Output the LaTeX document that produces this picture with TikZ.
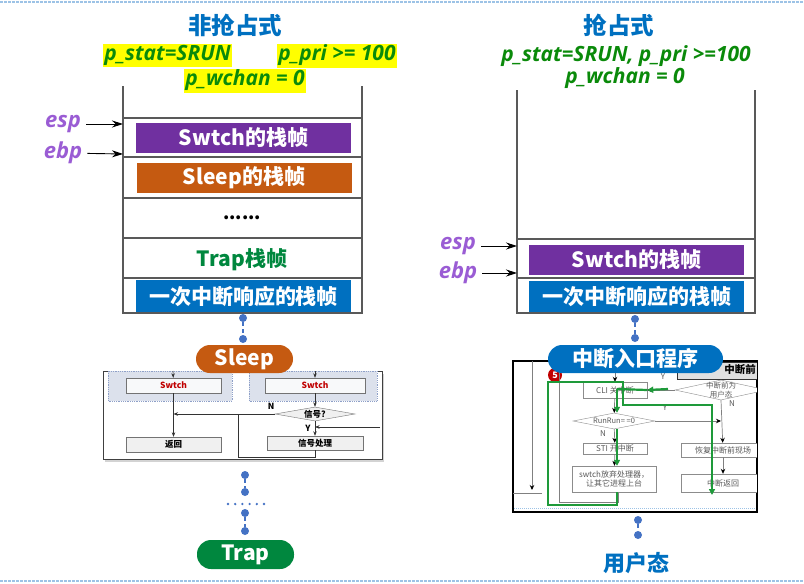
\documentclass[tikz,border=0pt]{standalone}
\usepackage{fontspec}
\setmainfont{Noto Sans CJK SC}
\newfontfamily\latinit{Open Sans}
\usetikzlibrary{positioning, shapes.geometric, arrows.meta, calc, shadows}
\definecolor{titleblue}{HTML}{0070C0}
\definecolor{condgreen}{HTML}{0A8A0A}
\definecolor{hilite}{HTML}{FFFF00}
\definecolor{regpurple}{HTML}{9A5CD4}
\definecolor{swpurple}{HTML}{7030A0}
\definecolor{slporange}{HTML}{C55A11}
\definecolor{intblue}{HTML}{0070C0}
\definecolor{trapgreen}{HTML}{00873E}
\definecolor{dotblue}{HTML}{4472C4}
\definecolor{stackgray}{HTML}{595959}
\definecolor{flowred}{HTML}{C00000}
\definecolor{regionfill}{HTML}{DCE1EC}
\definecolor{regionedge}{HTML}{8EA0C8}
\definecolor{shotgreen}{HTML}{1E9A3A}
\definecolor{edgeblue}{HTML}{9DC3E6}

\begin{document}
\begin{tikzpicture}[x=1pt, y=-1pt,
    title/.style={font=\fontsize{23.5}{26}\selectfont\bfseries, text=titleblue, inner sep=0pt},
    cond/.style={font=\latinit\bfseries\itshape\fontsize{21}{23}\selectfont, text=condgreen, inner sep=1pt},
    hilitebox/.style={fill=hilite, inner xsep=1.5pt, inner ysep=1.5pt},
    stackline/.style={draw=stackgray, line width=1.2pt},
    framebox/.style={minimum width=215pt, minimum height=30pt, inner sep=0pt, text=white,
                     font=\fontsize{21}{23}\selectfont\bfseries},
    ptrlabel/.style={font=\latinit\bfseries\itshape\fontsize{22}{24}\selectfont, text=regpurple, inner sep=1pt},
    ptr/.style={-{Stealth[length=11pt,width=7pt]}, line width=0.9pt, shorten <=4pt},
    pill/.style={rounded corners=14pt, minimum height=28pt, inner sep=0pt, text=white,
                 font=\fontsize{21}{23}\selectfont\bfseries},
    dot/.style={circle, fill=dotblue, minimum size=8pt, inner sep=0pt},
    link/.style={dotblue, line width=1.2pt, dash pattern=on 4pt off 3pt},
    % left small flow chart
    lfbox/.style={draw=black!55, minimum height=15pt, inner sep=0pt, font=\fontsize{8.5}{9}\selectfont\bfseries},
    swbox/.style={lfbox, fill=regionfill!85!black!10!white, text=flowred},
    plainbox/.style={lfbox, fill=black!6},
    flowline/.style={draw=black!80, line width=0.6pt},
    flowarrow/.style={flowline, -{Stealth[length=4.5pt,width=3.5pt]}},
    flowlabel/.style={font=\fontsize{8.5}{9}\selectfont\bfseries, inner sep=0pt},
    % right small flow chart
    rfbox/.style={draw=black!45, fill=white, inner sep=0pt, text=black!65, font=\fontsize{8}{9.5}\selectfont},
    rtext/.style={text=black!65, font=\fontsize{7.5}{8.5}\selectfont, inner sep=0pt},
    rline/.style={draw=black!50, line width=0.7pt},
    garrow/.style={rline, -{Stealth[length=5pt,width=4.5pt,black]}},
    gpath/.style={draw=shotgreen, line width=2.2pt},
    gtip/.style={-{Triangle[length=6pt,width=6pt]}},
  ]
  \useasboundingbox (0,0) rectangle (804,584);

  % page edges
  \draw[edgeblue, line width=2pt, dash pattern=on 3pt off 1pt] (0,2) -- (804,2);
  \draw[edgeblue, line width=2pt, dash pattern=on 3pt off 1pt] (0,581) -- (804,581);

  % ---------------- left: non preemptive ----------------
  \node[title] (ltitle) at (235,25) {非抢占式};
  \node[cond, hilitebox] (lcond1) at (167.5,55.5) {p\_stat=SRUN};
  \node[cond, hilitebox] (lcond2) at (337,55.5) {p\_pri >= 100};
  \node[cond, hilitebox] (lcond3) at (245,80.5) {p\_wchan = 0};

  \draw[stackline] (123,86) -- (123,313) -- (362,313) -- (362,86);
  \foreach \y in {118,157,198,238,278}
    \draw[stackline] (123,\y) -- (362,\y);

  \node[framebox, fill=swpurple] (lswtch) at (243.5,138) {Swtch的栈帧};
  \node[framebox, fill=slporange] (lsleep) at (244,178) {Sleep的栈帧};
  \node[font=\fontsize{18}{20}\selectfont\bfseries, inner sep=0pt] (lmore) at (242,218) {......};
  \node[font=\fontsize{21}{23}\selectfont\bfseries, text=trapgreen] (ltrap) at (242,260) {Trap栈帧};
  \node[framebox, fill=intblue, minimum height=32pt] (lintr) at (243.5,296) {一次中断响应的栈帧};

  \node[ptrlabel] (lesp) at (63,124) {esp};
  \node[ptrlabel] (lebp) at (63,153) {ebp};
  \coordinate (lespT) at (123,124);
  \coordinate (lebpT) at (123,154);
  \draw[ptr] (lesp) -- (lespT);
  \draw[ptr] (lebp) -- (lebpT);

  \node[dot] (ld1) at (243,318) {};
  \node[dot] (ld2) at (243,339) {};
  \draw[link] (ld1) -- (ld2);

  % sleep flow chart
  \node[draw=black!75, line width=0.8pt, fill=white,
        drop shadow={shadow xshift=2pt, shadow yshift=-3pt, opacity=0.35},
        minimum width=279pt, minimum height=88pt, inner sep=0pt] (lshot) at (242.5,415) {};
  \filldraw[fill=regionfill, draw=regionedge, densely dotted, line width=0.8pt] (108,371) rectangle (232,401);
  \filldraw[fill=regionfill, draw=regionedge, densely dotted, line width=0.8pt] (249,371) rectangle (377,401);
  \node[swbox, minimum width=95pt] (lsw1) at (173.5,385.5) {Swtch};
  \node[swbox, minimum width=100pt] (lsw2) at (315,385.5) {Swtch};
  \node[plainbox, minimum width=95pt] (lret) at (173.5,444.5) {返回};
  \node[diamond, draw=black!55, fill=black!6, aspect=5.7, minimum width=80pt, minimum height=14pt,
        inner sep=0pt, font=\fontsize{8.5}{9}\selectfont\bfseries] (ldia) at (315,414) {信号?};
  \node[plainbox, minimum width=96pt, minimum height=14pt] (lproc) at (315,443) {信号处理};
  \coordinate (lin1) at (173,371);
  \coordinate (lin2) at (315,371);
  \coordinate (lloop) at (238,457);
  \coordinate (lback) at (380,427);
  \draw[flowarrow] (lin1) -- (lsw1);
  \draw[flowarrow] (lin2) -- (lsw2);
  \draw[flowarrow] (lsw1) -- (lret);
  \draw[flowarrow] (lsw2) -- (ldia);
  \draw[flowarrow] (ldia.west) -- (ldia.west -| lsw1);
  \draw[flowarrow] (ldia) -- (lproc);
  \draw[flowline] (lproc.south) |- (lloop) -- (lloop |- ldia);
  \draw[flowarrow] (lback) -- (lback -| ldia);
  \node[flowlabel] (lN) at (271,406) {N};
  \node[flowlabel] (lY) at (308,428) {Y};

  \node[pill, fill=slporange, minimum width=97pt] (lsleeppill) at (244.5,359) {Sleep};

  \node[dot] (ld3) at (245,475) {};
  \node[dot] (ld4) at (245,492) {};
  \node[dot] (ld5) at (245,513) {};
  \node[dot] (ld6) at (245,531) {};
  \draw[link] (ld3) -- (ld4);
  \draw[link] (ld5) -- (ld6);
  \draw[dotblue, line width=2.6pt, line cap=round, dash pattern=on 0pt off 7.2pt] (228,504) -- (264,504);
  \node[pill, fill=trapgreen, minimum width=97pt, minimum height=29pt] (ltrappill) at (245.5,554.5) {Trap};

  % ---------------- right: preemptive ----------------
  \node[title] (rtitle) at (619,25) {抢占式};
  \node[cond] (rcond1) at (626,56) {p\_stat=SRUN, p\_pri >=100};
  \node[cond] (rcond2) at (625,78) {p\_wchan = 0};

  \draw[stackline] (517,90) -- (517,313) -- (755,313) -- (755,90);
  \draw[stackline] (517,239) -- (755,239);
  \draw[stackline] (517,278) -- (755,278);
  \node[framebox, fill=swpurple] (rswtch) at (636.5,260) {Swtch的栈帧};
  \node[framebox, fill=intblue, minimum height=31pt] (rintr) at (636.5,296.5) {一次中断响应的栈帧};

  \node[ptrlabel] (resp) at (458,246) {esp};
  \node[ptrlabel] (rebp) at (458,273) {ebp};
  \coordinate (respT) at (517,246);
  \coordinate (rebpT) at (517,273);
  \draw[ptr] (resp) -- (respT);
  \draw[ptr] (rebp) -- (rebpT);

  \node[dot] (rd1) at (635,319) {};
  \node[dot] (rd2) at (635,338) {};
  \draw[link] (rd1) -- (rd2);

  % interrupt entry flow chart
  \node[draw=black, line width=1.3pt, fill=white, minimum width=244pt, minimum height=151pt,
        inner sep=0pt] (rshot) at (635,436.5) {};
  \begin{scope}
    \clip (513,361) rectangle (757,512);
    \draw[edgeblue, densely dotted, line width=1pt] (514,508) -- (756,508);
    \coordinate (rtopA) at (532,361);
    \coordinate (rendA) at (532,490);
    \coordinate (rbarL) at (513,493);
    \coordinate (rbarR) at (542,493);
    \coordinate (rtopB) at (559,361);
    \coordinate (rentry) at (615,366);
    \draw[garrow] (rtopA) -- (rendA);
    \draw[rline] (rbarL) -- (rbarR);

    \node[circle, fill=flowred, text=white, minimum size=14pt, inner sep=0pt,
          font=\fontsize{9}{9}\selectfont\bfseries] (rfive) at (555,375) {5};

    \node[draw=black!80, line width=1pt, fill=black!12, minimum width=94pt, minimum height=17pt,
          inner sep=0pt] (rhead) at (724,370.5) {};
    \node[font=\fontsize{10.5}{11}\selectfont\bfseries, inner sep=0pt] (rheadtxt) at (740,370) {中断前};
    \node[rfbox, minimum width=64pt, minimum height=16pt] (rcli) at (615,390) {CLI 关中断};
    \node[diamond, draw=black!45, fill=white, minimum width=92pt, minimum height=20pt, inner sep=0pt,
          label={[rtext, align=center]center:中断前为\\用户态}] (rdia1) at (721,390) {};
    \node[diamond, draw=black!45, fill=white, minimum width=82pt, minimum height=16pt, inner sep=0pt,
          label={[rtext]center:RunRun= =0}] (rrun) at (614,421) {};
    \node[rfbox, minimum width=64pt, minimum height=11pt] (rsti) at (615,448.5) {STI 开中断};
    \node[rfbox, minimum width=84pt, minimum height=26pt, align=center] (rswt) at (614,479) {swtch放弃处理器，\\让其它进程上台};
    \node[rfbox, minimum width=84pt, minimum height=14pt] (rrest) at (723,450) {恢复中断前现场};
    \node[rfbox, minimum width=84pt, minimum height=18pt] (rret) at (723,483) {中断返回};

    \draw[garrow] (rentry) -- (rcli);
    \draw[garrow] (rdia1.west) -- (rcli.east);
    \draw[garrow] (rcli) -- (rrun);
    \draw[garrow] (rrun) -- (rsti);
    \draw[garrow] (rsti) -- (rswt);
    \draw[garrow] (rrun.east) -- (rrun.east -| rdia1.south);
    \draw[garrow] (rdia1.south) -- (rrest);
    \draw[garrow] (rrest) -- (rret);
    \draw[rline] (rtopB) |- ($(rswt.south)+(4,10)$) -- ($(rswt.south)+(4,0)$);

    \node[rtext, font=\fontsize{8}{9}\selectfont] (rY1) at (663,377) {Y};
    \node[rtext, font=\fontsize{8}{9}\selectfont] (rN1) at (732,404) {N};
    \node[rtext, font=\fontsize{8}{9}\selectfont] (rY2) at (665,408) {Y};
    \node[rtext, font=\fontsize{8}{9}\selectfont] (rN2) at (603,434) {N};

    % highlighted path
    \coordinate (gstart) at (668,389);
    \coordinate (g1) at (617,389);
    \draw[gpath, gtip] (gstart) -- (rcli.east);
    \draw[gpath] (rcli.east) -- (g1);
    \draw[gpath, gtip] (g1) -- (g1 |- rrun.north);
    \draw[gpath, gtip] (g1 |- rrun.south) -- (g1 |- rswt.north);
    \draw[gpath, gtip] (g1 |- rswt.south) |- (548,505) |- (623,382) |- (712,405) -- (712,495);
  \end{scope}
  \draw[black, line width=1.3pt] (rshot.north west) rectangle (rshot.south east);

  \node[pill, fill=intblue, minimum width=175pt] (rentrypill) at (635.5,359) {中断入口程序};

  \node[dot] (rd3) at (638,520) {};
  \node[dot] (rd4) at (638,535) {};
  \draw[link] (rd3) -- (rd4);
  \node[title, font=\fontsize{22}{24}\selectfont\bfseries] (ruser) at (636,563) {用户态};
\end{tikzpicture}
\end{document}
